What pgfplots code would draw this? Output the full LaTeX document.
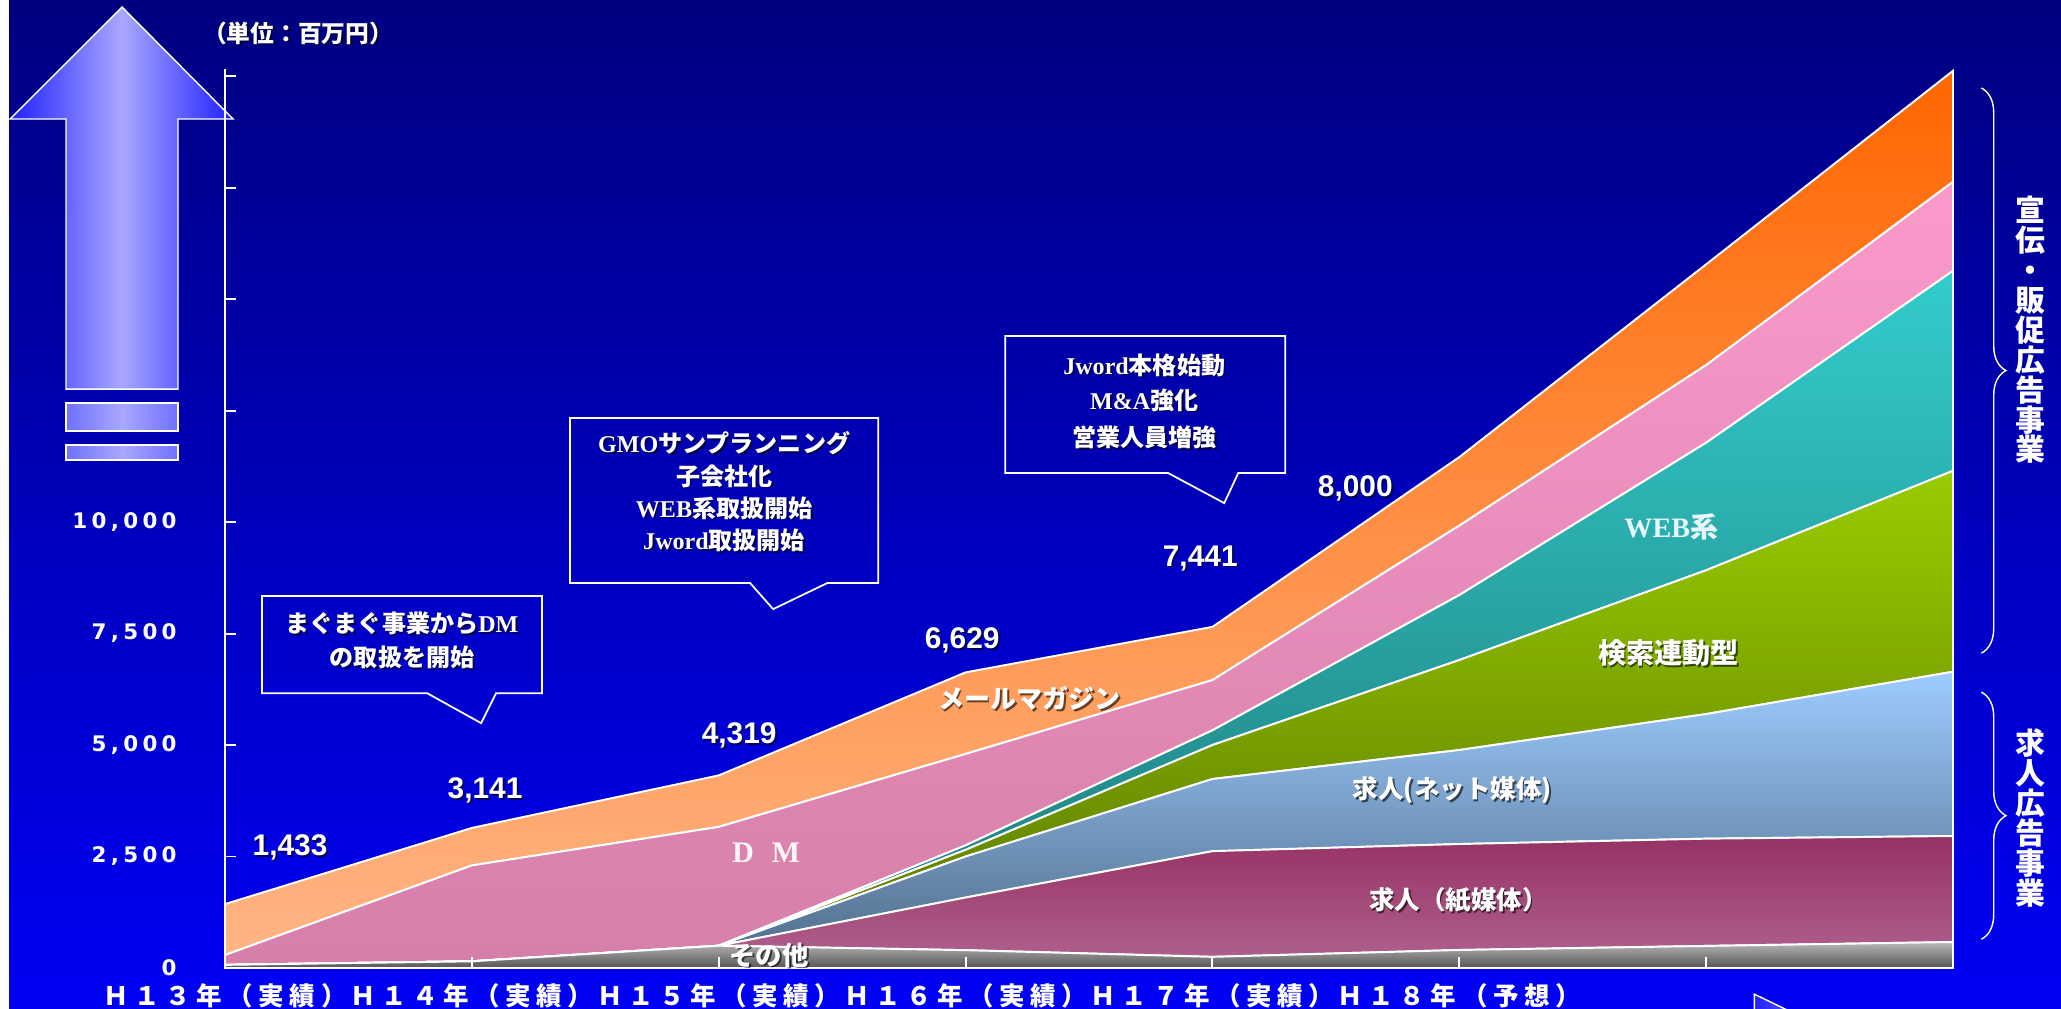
\documentclass[border=0pt]{standalone}
\usepackage{fontspec}
\usepackage{pgfplots}
\pgfplotsset{compat=1.18}
\usepackage{pgfplotstable}
\usetikzlibrary{decorations.pathreplacing}
\setmainfont{Liberation Sans}
\newfontfamily\jp{Noto Sans CJK JP}
\newfontfamily\jpsp{Noto Sans CJK JP}[LetterSpace=22]
\newfontfamily\tms{Liberation Serif}
\newfontfamily\numsp{DejaVu Sans}[LetterSpace=20]
\newcommand\fs[1]{\fontsize{#1}{#1}\selectfont}

\definecolor{bgtop}{RGB}{0,0,128}
\definecolor{bgbot}{RGB}{0,0,245}
\definecolor{orgT}{HTML}{FF6600}\definecolor{orgB}{HTML}{FFB585}
\definecolor{pnkT}{HTML}{FA9ACB}\definecolor{pnkB}{HTML}{D57FAA}
\definecolor{tealT}{HTML}{33CCCC}\definecolor{tealB}{HTML}{1F7A7A}
\definecolor{grnT}{HTML}{99CC00}\definecolor{grnB}{HTML}{5A7800}
\definecolor{bluT}{HTML}{9DCCFF}\definecolor{bluB}{HTML}{4F6B88}
\definecolor{marT}{HTML}{963264}\definecolor{marB}{HTML}{B0628E}
\definecolor{gryT}{HTML}{B8B8B8}\definecolor{gryB}{HTML}{555555}
\definecolor{arrE}{RGB}{32,32,255}
\definecolor{arrM}{RGB}{168,168,255}
\definecolor{arrS}{RGB}{112,112,255}

% stacked layers (million yen), bottom to top
\pgfplotstableread{
x gray maroon blue green teal pink orange
0  70    0    0    0    0  221 1142
1 150    0    0    0    0 2150  841
2 500    0    0    0    0 2665 1154
3 400 1180  920  150  100 2050 1829
4 250 2370 1618  762  330 1127 1193
5 404 2376 2108 2018 1457 1557 1537
6 495 2405 2795 3225 2860 1740 2260
7 583 2377 3684 4506 4485 1995 2490
}\layers

% shadowed white label, image pixel coords
\newcommand\sh[3]{%
  \node[text=black, opacity=0.6, inner sep=0] at ([shift={(1.8,1.8)}]#1,#2) {#3};
  \node[text=white, inner sep=0] at (#1,#2) {#3};}

\begin{document}
\begin{tikzpicture}
\begin{scope}[x=0.02cm,y=-0.02cm,yshift=20.18cm]
  \clip (0,0) rectangle (2061,1009);
  \shade[top color=bgtop, bottom color=bgbot] (0,0) rectangle (2061,1009);
  \fill[white] (0,0) rectangle (9,1009);
  % big arrow
  \shade[left color=arrE, right color=arrE, middle color=arrM]
    (10,119) -- (122,7) -- (233,119) -- (178,119) -- (178,389) -- (66,389) -- (66,119) -- cycle;
  \draw[white, line width=0.8pt]
    (10,119) -- (122,7) -- (233,119) -- (178,119) -- (178,389) -- (66,389) -- (66,119) -- cycle;
  \shade[left color=arrS, right color=arrS, middle color=arrM] (66,403) rectangle (178,431);
  \shade[left color=arrS, right color=arrS, middle color=arrM] (66,445) rectangle (178,460);
  \draw[white, line width=0.8pt] (66,403) rectangle (178,431) (66,445) rectangle (178,460);
  % bottom right arrow
  \shade[left color=arrE, right color=arrM] (1754,994) -- (1860,1045) -- (1754,1096) -- cycle;
  \draw[white, line width=0.8pt] (1754,994) -- (1860,1045) -- (1754,1096) -- cycle;
\end{scope}

\begin{axis}[
  at={(4.5cm,0.82cm)}, anchor=south west,
  scale only axis, width=34.56cm, height=17.97cm,
  xmin=0, xmax=7, ymin=0, ymax=20150,
  stack plots=y, clip=false, axis on top,
  axis x line*=bottom, axis y line*=left,
  axis line style={white, line width=1.1pt},
  tick style={white, line width=1.1pt},
  tick align=inside, major tick length=0.22cm,
  scaled y ticks=false,
  xtick={0,...,7},
  xticklabels={Ｈ１３年（実績）,Ｈ１４年（実績）,Ｈ１５年（実績）,Ｈ１６年（実績）,Ｈ１７年（実績）,Ｈ１８年（予想）,{},{}},
  xticklabel style={font=\jpsp\bfseries\fs{14.5}, text=white, anchor=center, yshift=-0.56cm, inner sep=0},
  ytick={0,2500,...,20000},
  yticklabels={{0},{2,500},{5,000},{7,500},{10,000},{},{},{},{}},
  yticklabel style={font=\numsp\bfseries\fs{12.2}, text=white, anchor=east, xshift=-0.96cm, inner sep=0},
]
\addplot[draw=white, line width=1.1pt, top color=gryT, bottom color=gryB] table[x=x,y=gray]{\layers} \closedcycle;
\addplot[draw=white, line width=1.1pt, top color=marT, bottom color=marB] table[x=x,y=maroon]{\layers} \closedcycle;
\addplot[draw=white, line width=1.1pt, top color=bluT, bottom color=bluB] table[x=x,y=blue]{\layers} \closedcycle;
\addplot[draw=white, line width=1.1pt, top color=grnT, bottom color=grnB] table[x=x,y=green]{\layers} \closedcycle;
\addplot[draw=white, line width=1.1pt, top color=tealT, bottom color=tealB] table[x=x,y=teal]{\layers} \closedcycle;
\addplot[draw=white, line width=1.1pt, top color=pnkT, bottom color=pnkB] table[x=x,y=pink]{\layers} \closedcycle;
\addplot[draw=white, line width=1.1pt, top color=orgT, bottom color=orgB] table[x=x,y=orange]{\layers} \closedcycle;
\end{axis}

\begin{scope}[x=0.02cm,y=-0.02cm,yshift=20.18cm]
  % unit
  \sh{298}{33}{\jp\bfseries\fs{13.5}（単位：百万円）}
  % totals
  \sh{290}{847}{\bfseries\fs{17}1,433}
  \sh{485}{790}{\bfseries\fs{17}3,141}
  \sh{739}{735}{\bfseries\fs{17}4,319}
  \sh{962}{640}{\bfseries\fs{17}6,629}
  \sh{1200}{558}{\bfseries\fs{17}7,441}
  \sh{1355}{488}{\bfseries\fs{17}8,000}
  % callouts
  \draw[white, line width=1pt] (262,596) -- (542,596) -- (542,693) -- (496,693) -- (481,723) -- (427,693) -- (262,693) -- cycle;
  \sh{402}{623}{\jp\bfseries\fs{13.7}まぐまぐ事業から{\tms\bfseries DM}}
  \sh{402}{657}{\jp\bfseries\fs{13.7}の取扱を開始}
  \draw[white, line width=1pt] (570,418) -- (878,418) -- (878,583) -- (827,583) -- (773,609) -- (750,583) -- (570,583) -- cycle;
  \sh{724}{443}{\jp\bfseries\fs{13.7}{\tms\bfseries GMO}サンプランニング}
  \sh{724}{476}{\jp\bfseries\fs{13.7}子会社化}
  \sh{724}{508}{\jp\bfseries\fs{13.7}{\tms\bfseries WEB}系取扱開始}
  \sh{724}{540}{\jp\bfseries\fs{13.7}{\tms\bfseries Jword}取扱開始}
  \draw[white, line width=1pt] (1005,336) -- (1285,336) -- (1285,473) -- (1238,473) -- (1224,503) -- (1168,473) -- (1005,473) -- cycle;
  \sh{1144}{365}{\jp\bfseries\fs{13.7}{\tms\bfseries Jword}本格始動}
  \sh{1144}{400}{\jp\bfseries\fs{13.7}{\tms\bfseries M\&A}強化}
  \sh{1144}{437}{\jp\bfseries\fs{13.7}営業人員増強}
  % series names
  \sh{1029}{698}{\jp\bfseries\fs{14.8}メールマガジン}
  \node[text=white!88!pink, inner sep=0] at (766,853) {\tms\bfseries\fs{17}D\hspace{0.6em}M};
  \sh{769}{955}{\jp\bfseries\fs{15}その他}
  \node[text=white!90!cyan, inner sep=0] at (1671,527) {\fs{16}{\tms\bfseries WEB}{\jp\bfseries 系}};
  \sh{1668}{653}{\jp\bfseries\fs{16}検索連動型}
  \sh{1452}{790}{\jp\bfseries\fs{14.5}求人(ネット媒体)}
  \sh{1458}{900}{\jp\bfseries\fs{14.5}求人（紙媒体）}
  % braces
  \draw[white, line width=0.8pt, decorate, decoration={brace, amplitude=14}] (1981,88) -- (1981,653);
  \draw[white, line width=0.8pt, decorate, decoration={brace, amplitude=14}] (1981,692) -- (1981,939);
  \node[text=white, align=center, inner sep=0, font=\jp\bfseries\fs{17}] at (2030,330)
    {宣\\伝\\・\\販\\促\\広\\告\\事\\業};
  \node[text=white, align=center, inner sep=0, font=\jp\bfseries\fs{17}] at (2030,818)
    {求\\人\\広\\告\\事\\業};
\end{scope}
\pgfresetboundingbox
\path[use as bounding box] (0,0) rectangle (41.22cm,20.18cm);
\end{tikzpicture}
\end{document}
